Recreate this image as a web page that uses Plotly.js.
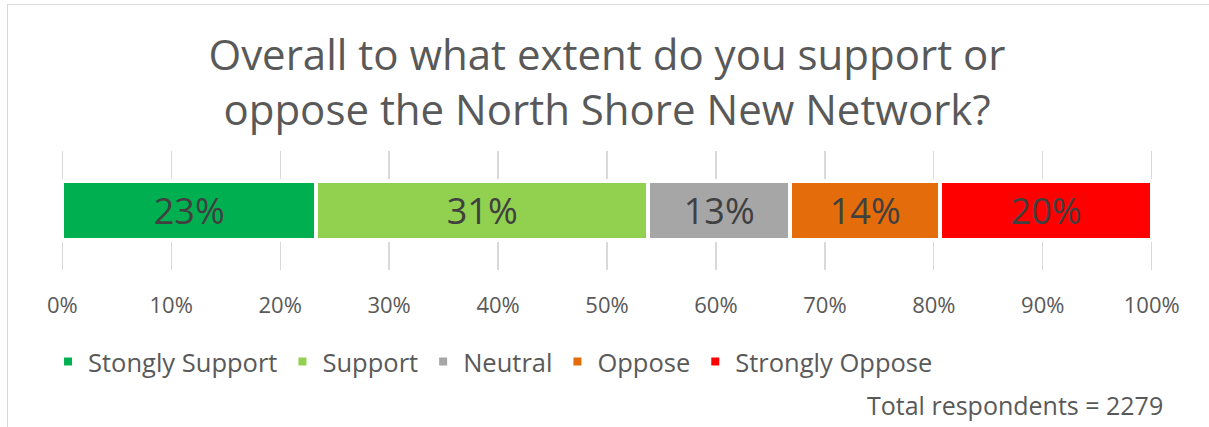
<!DOCTYPE html>
<html><head><meta charset="utf-8">
<script src="https://cdn.plot.ly/plotly-3.0.1.min.js"></script>
<style>
html,body{margin:0;padding:0;background:#fff}
#wrap{position:relative;width:1209px;height:427px;overflow:hidden}
#chart{width:1209px;height:427px}
#frame{position:absolute;left:7px;top:4px;right:-10px;bottom:-10px;border-left:1.5px solid #d9d9d9;border-top:1.5px solid #d9d9d9;pointer-events:none}
</style>
</head><body>
<div id="wrap"><div id="chart"></div><div id="frame"></div></div>
<script>
const categories = ['Stongly Support', 'Support', 'Neutral', 'Oppose', 'Strongly Oppose'];
const shares = [23.3, 30.5, 13.0, 13.8, 19.4];
const shareLabels = ['23%', '31%', '13%', '14%', '20%'];
const colors = ['#00B050', '#92D050', '#A6A6A6', '#E46C0A', '#FF0000'];
const tickValues = [0, 10, 20, 30, 40, 50, 60, 70, 80, 90, 100];
const tickLabels = ['0%', '10%', '20%', '30%', '40%', '50%', '60%', '70%', '80%', '90%', '100%'];
const rowName = ['All respondents'];
const titleText = 'Overall to what extent do you support or<br>oppose the North Shore New Network?';
const noteText = 'Total respondents = 2279';

const FONT = '"Open Sans", "Noto Sans", sans-serif';

const traces = categories.map((name, i) => ({
  type: 'bar',
  orientation: 'h',
  name: name,
  y: rowName,
  x: [shares[i]],
  text: [shareLabels[i]],
  textposition: 'inside',
  insidetextanchor: 'middle',
  constraintext: 'none',
  textfont: {family: FONT, size: 36, color: '#404040'},
  marker: {color: colors[i], line: {color: '#ffffff', width: 4}},
  width: 0.5,
  hoverinfo: 'skip'
}));

// plot area spans y 151..270
const PLOT_TOP = 151, PLOT_BOTTOM = 270;
const toPaperY = (py) => (PLOT_BOTTOM - py) / (PLOT_BOTTOM - PLOT_TOP);

const layout = {
  width: 1209, height: 427,
  margin: {l: 59, r: 54, t: PLOT_TOP, b: 427 - PLOT_BOTTOM, pad: 0},
  paper_bgcolor: '#ffffff', plot_bgcolor: '#ffffff',
  barmode: 'stack',
  bargap: 0,
  font: {family: FONT, color: '#595959'},
  title: {
    text: titleText,
    font: {family: FONT, size: 42, color: '#595959'},
    x: 0.5, xanchor: 'center', xref: 'paper',
    y: 1 - 70 / 427, yanchor: 'middle', yref: 'container'
  },
  xaxis: {
    range: [-0.3, 100.3],
    tickvals: tickValues,
    ticktext: tickLabels,
    showgrid: true, gridcolor: '#d9d9d9', gridwidth: 1.3,
    zeroline: false, showline: false,
    ticks: '', ticklabelstandoff: 20,
    tickfont: {family: FONT, size: 22, color: '#595959'},
    fixedrange: true
  },
  yaxis: {
    range: [-0.5, 0.5],
    showticklabels: false, showgrid: false, zeroline: false, showline: false,
    fixedrange: true
  },
  showlegend: true,
  legend: {
    orientation: 'h',
    traceorder: 'normal',
    x: -0.01, xanchor: 'left',
    y: toPaperY(362), yanchor: 'middle', yref: 'paper',
    font: {family: FONT, size: 25.5, color: '#595959'},
    bgcolor: 'rgba(0,0,0,0)'
  },
  annotations: [{
    text: noteText,
    xref: 'paper', yref: 'paper',
    x: (1165 - 59) / 1096, xanchor: 'right',
    y: toPaperY(405), yanchor: 'middle',
    showarrow: false,
    font: {family: FONT, size: 25, color: '#595959'}
  }]
};

Plotly.newPlot('chart', traces, layout, {displayModeBar: false, staticPlot: true});
</script>
</body></html>
